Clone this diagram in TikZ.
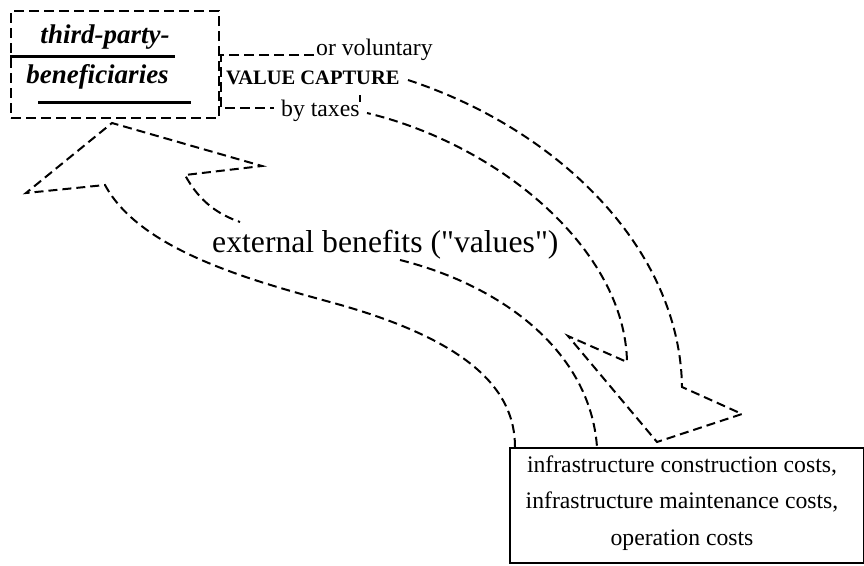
\documentclass[tikz,border=0pt]{standalone}
\usepackage{fontspec}
\setmainfont{Liberation Serif}
\newfontfamily\plainserif{Liberation Serif}[Ligatures=TeXOff]
\begin{document}
\begin{tikzpicture}[x=1pt,y=-1pt,
  boxline/.style={draw,line width=2.2pt,dash pattern=on 10pt off 5pt},
  vcline/.style={line width=2pt,dash pattern=on 10pt off 5pt},
  curveline/.style={line width=2pt,dash pattern=on 9pt off 5pt},
  label/.style={inner sep=0pt,font=\fontsize{23.7}{28}\selectfont},
  bentxt/.style={inner sep=0pt,font=\fontsize{27}{32}\selectfont\bfseries\itshape}]
\useasboundingbox[fill=white] (0,0) rectangle (864,565);

% beneficiaries box with its underlined title
\node[boxline,anchor=north west,inner sep=0pt,minimum width=208pt,minimum height=107pt] (ben) at (10,10) {};
\node[bentxt,anchor=base] (tp) at (105,43) {third-party-};
\node[bentxt,anchor=base] (bf) at (97.5,83) {beneficiaries};
\draw[line width=3pt] (10,56) -- (175,56);
\draw[line width=3pt] (38,102) -- (191,102);

% value capture bracket
\node[label,anchor=base west] (orv) at (316,55) {or voluntary};
\node[inner sep=0pt,anchor=base west,font=\fontsize{20.5}{24}\selectfont\bfseries] (vc) at (226,84) {VALUE CAPTURE};
\node[label,anchor=base west] (tax) at (281,116) {by taxes};
\coordinate (vcA) at (221,55);
\coordinate (vcB) at (221,108);
\draw[vcline] ([xshift=-2pt]orv.west |- vcA) -- (vcA) -- (vcB) -- ([xshift=-7pt]tax.west |- vcB);
\draw[line width=1.5pt] (360,95) -- (360,102);

% costs box
\node[draw,line width=2pt,anchor=north west,inner sep=0pt,minimum width=354pt,minimum height=115pt] (costs) at (509,447) {};
\node[align=center,inner sep=0pt,font=\fontsize{23.7}{36.5}\selectfont] (ctxt) at (682,503)
  {infrastructure construction costs,\\infrastructure maintenance costs,\\operation costs};

% value capture arrow: from the capture bracket down to the costs
\coordinate (rs) at (408,80);
\coordinate (re) at (367,113);
\draw[curveline] (rs) .. controls (560,130) and (680,250) .. (682,387)
  -- (742,414) -- (657,442) -- (568,336) -- (627,362)
  .. controls (625,250) and (500,145) .. (re);

% external benefits arrow: from the costs up to the beneficiaries
\coordinate (ls) at (515,447);
\coordinate (li) at (597,447);
\draw[curveline] (ls) .. controls (515,390) and (470,340) .. (330,302)
  .. controls (250,280) and (140,250) .. (105,185)
  -- (26,193) -- (112,123) -- (262,166) -- (185,175)
  .. controls (200,203) and (220,215) .. (240,222);
\draw[curveline] (400,260) .. controls (500,285) and (590,350) .. (li);

\node[inner sep=0pt,anchor=base west,font=\plainserif\fontsize{31.7}{38}\selectfont] (ext) at (212,252) {external benefits ("values")};
\end{tikzpicture}
\end{document}
